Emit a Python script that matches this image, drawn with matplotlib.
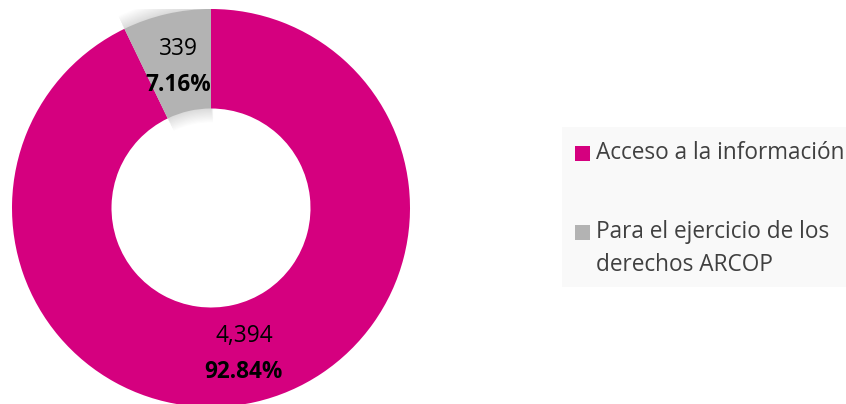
import numpy as np
import matplotlib.pyplot as plt
from matplotlib.patches import Rectangle, Wedge

plt.rcParams['font.family'] = ['Open Sans', 'DejaVu Sans']

categories = ["Acceso a la información", "Para el ejercicio de los\nderechos ARCOP"]
values = [4394, 339]
value_labels = ["4,394", "339"]
pct_labels = ["92.84%", "7.16%"]
colors = ["#d5007f", "#b3b3b3"]

W, H = 846, 404
fig = plt.figure(figsize=(W / 100, H / 100), dpi=100)

# donut axes: centre (211, 208) px, radius 199 px
cx, cy, r = 211, 208, 199
ax = fig.add_axes([(cx - r) / W, (H - cy - r) / H, 2 * r / W, 2 * r / H])
wedges, _ = ax.pie(values, colors=colors, startangle=90, counterclock=False,
                   radius=1, wedgeprops=dict(width=0.5, linewidth=0, zorder=3))
ax.set_xlim(-1, 1)
ax.set_ylim(-1, 1)
ax.set_aspect('equal')
ax.axis('off')

# soft shadow behind the small slice
w = wedges[1]
for d in np.linspace(0.005, 0.07, 12):
    ax.add_patch(Wedge((0, 0), 1 + d, w.theta1 - d * 20, w.theta2, width=0.5 + 2 * d,
                       facecolor='black', alpha=0.012, linewidth=0, zorder=1))

for w, num, pct in zip(wedges, value_labels, pct_labels):
    ang = np.deg2rad((w.theta1 + w.theta2) / 2)
    x, y = 0.74 * np.cos(ang), 0.74 * np.sin(ang) - 0.012
    ax.text(x, y + 0.09, num, ha='center', va='center', fontsize=16.3,
            color='black', zorder=5)
    ax.text(x, y - 0.09, pct, ha='center', va='center', fontsize=16.3,
            fontweight='bold', color='black', zorder=5)

# legend
fig.patches.append(Rectangle((562 / W, (H - 287) / H), (W - 562) / W, 160 / H,
                             transform=fig.transFigure, facecolor='#f9f9f9',
                             edgecolor='none', zorder=0))
rows_y = [153, 232]
for cat, col, yy in zip(categories, colors, rows_y):
    fig.patches.append(Rectangle((575 / W, (H - yy - 7.5) / H), 15 / W, 15 / H,
                                 transform=fig.transFigure, facecolor=col,
                                 edgecolor='none'))
    lines = cat.split("\n")
    for i, line in enumerate(lines):
        fig.text(596 / W, (H - yy - 33 * i) / H, line, ha='left', va='center',
                 fontsize=16.3, color='#404040')

fig.savefig("out.png", dpi=100)
